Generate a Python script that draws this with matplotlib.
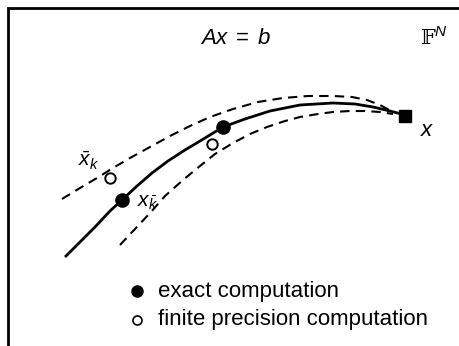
import matplotlib
matplotlib.use("Agg")
import matplotlib.pyplot as plt

plt.rcParams['mathtext.fontset'] = 'custom'
plt.rcParams['mathtext.rm'] = 'Liberation Sans'
plt.rcParams['mathtext.it'] = 'Liberation Sans:italic'
plt.rcParams['font.family'] = ['Liberation Sans', 'DejaVu Sans']

# curve coordinates (pixel space of the sketch)
exact_x = [65, 80, 95, 110, 122, 137, 152, 168, 185, 205, 223, 245, 270, 300, 333, 355, 373, 390, 405]
exact_y = [257, 242, 227, 211, 200, 186, 173, 161, 150, 138, 127, 119, 111, 105, 103, 104, 107, 111, 115]
upper_x = [62, 80, 97, 113, 130, 150, 170, 190, 210, 233, 258, 283, 308, 333, 352, 367, 380, 393]
upper_y = [199, 188, 178, 168, 158, 147, 136, 126, 117, 109, 102, 98, 96, 96, 97, 100, 105, 112]
lower_x = [120, 135, 150, 165, 183, 200, 215, 233, 250, 267, 285, 300, 318, 333, 350, 365, 380, 393]
lower_y = [245, 229, 213, 196, 180, 166, 154, 143, 134, 127, 121, 117, 114, 112, 111, 111, 112, 114]
exact_pts_x = [122, 223]
exact_pts_y = [200, 127]
fp_pts_x = [110, 212]
fp_pts_y = [178, 144]
end_x, end_y = 405, 116
legend_labels = ["exact computation", "finite precision computation"]

fig = plt.figure(figsize=(4.59, 3.46), dpi=100)
ax = fig.add_axes([0, 0, 1, 1])
ax.set_xlim(0, 459)
ax.set_ylim(346, 0)
ax.axis('off')

# frame
ax.plot([8, 8, 459], [346, 8, 8], color='black', lw=2.0, solid_joinstyle='miter')

ax.plot(upper_x, upper_y, color='black', lw=1.5, dashes=(4.5, 3))
ax.plot(lower_x, lower_y, color='black', lw=1.5, dashes=(4.5, 3))
ax.plot(exact_x, exact_y, color='black', lw=2.0, solid_capstyle='butt',
        solid_joinstyle='round')

ax.plot(exact_pts_x, exact_pts_y, 'o', color='black', ms=9.5)
ax.plot(fp_pts_x, fp_pts_y, 'o', mfc='white', mec='black', mew=1.4, ms=7.5)
ax.plot([end_x], [end_y], 's', color='black', ms=8.5)

ax.text(236, 38, r'$Ax\;=\;b$', fontsize=16, ha='center', va='center')
ax.text(421, 44, '\U0001D53D', fontsize=15, ha='left', va='baseline',
        family=['DejaVu Serif', 'DejaVu Sans'])
ax.text(434, 36, r'$N$', fontsize=11, ha='left', va='baseline')
ax.text(427, 130, r'$x$', fontsize=16, ha='center', va='center')
ax.text(89, 161, r'$\bar{x}_k$', fontsize=15, ha='center', va='center')
ax.text(148, 202, r'$x_{\bar{k}}$', fontsize=15, ha='center', va='center')

ax.plot([137], [291], 'o', color='black', ms=8)
ax.plot([137], [320], 'o', mfc='white', mec='black', mew=1.2, ms=6.5)
ax.text(158, 291, legend_labels[0], fontsize=16, ha='left', va='center')
ax.text(158, 320, legend_labels[1], fontsize=16, ha='left', va='center')

fig.savefig('out.png', dpi=100)
